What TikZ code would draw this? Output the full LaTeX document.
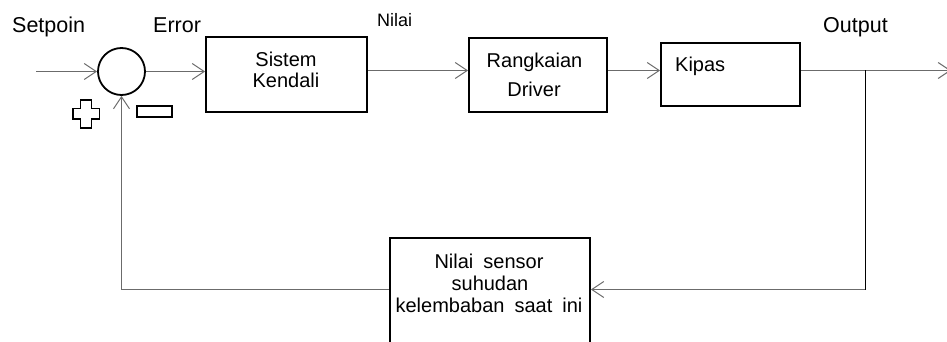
\documentclass[tikz,border=0pt]{standalone}
\usepackage{fontspec}
\setmainfont{Liberation Sans}
\newfontfamily\widefont[WordSpace=1.8]{Liberation Sans}
\usetikzlibrary{arrows.meta}
\begin{document}
\begin{tikzpicture}[x=1pt,y=-1pt,
  blk/.style={draw=black, line width=1.8pt, inner sep=0pt, fill=white},
  wire/.style={draw=black!58, line width=1.6pt},
  tip/.style={-{Straight Barb[length=12pt,width=16pt,line width=1pt]}},
  lbl/.style={font=\fontsize{21.5}{24}\selectfont, anchor=base west, inner sep=0pt},
  txt/.style={font=\fontsize{20}{22}\selectfont, anchor=base, inner sep=0pt},
  wtxt/.style={font=\widefont\fontsize{20}{22}\selectfont, anchor=base, inner sep=0pt},
  sign/.style={draw=black, line width=1.5pt},
]
\useasboundingbox (0,0) rectangle (947,342);
\fill[white] (0,0) rectangle (947,342);

% main signal level
\coordinate (ml) at (0,70.5);
\coordinate (fb) at (0,289.5);

% blocks
\node[circle, draw=black, line width=1.8pt, minimum size=47pt, inner sep=0pt] (sum) at (121.5,71.5) {};
\node[blk, minimum width=161pt, minimum height=75pt] (ctl) at (286.5,74.5) {};
\node[blk, minimum width=138pt, minimum height=74pt] (drv) at (538,75) {};
\node[blk, minimum width=139pt, minimum height=63pt] (fan) at (730.5,74.5) {};
\node[blk, minimum width=200pt, minimum height=124pt] (sens) at (490,300) {};

% block texts
\node[txt] (t1) at (286,67) {Sistem};
\node[txt] (t2) at (286,88) {Kendali};
\node[txt] (t3) at (534.5,68) {Rangkaian};
\node[txt] (t4) at (534,97) {Driver};
\node[txt, anchor=base west] (t5) at (675,72) {Kipas};
\node[wtxt] (s1) at (489,268) {Nilai sensor};
\node[wtxt] (s2) at (490,290) {suhudan};
\node[wtxt] (s3) at (489,312) {kelembaban saat ini};

% signal labels
\node[lbl] (lsp) at (12,33) {Setpoin};
\node[lbl] (ler) at (153,33) {Error};
\node[lbl, font=\fontsize{18}{20}\selectfont] (lni) at (377,27) {Nilai};
\node[lbl] (lout) at (823,33) {Output};

% connectors
\coordinate (in) at (36,71.5);
\coordinate (out) at (951,70.5);
\coordinate (j) at (865,70.5);
\draw[wire,tip] (in) -- (sum.west);
\draw[wire,tip] (sum.east) -- (sum.east -| ctl.west);
\draw[wire,tip] (ctl.east |- ml) -- (drv.west |- ml);
\draw[wire,tip] (drv.east |- ml) -- (fan.west |- ml);
\draw[wire,tip] (fan.east |- ml) -- (out);
\draw[black, line width=1pt] (j) -- (j |- fb);
\draw[wire,tip] (j |- fb) -- (sens.east |- fb);
\draw[wire,tip] (sens.west |- fb) -- (sum |- fb) -- (sum.south);

% summing signs
\draw[sign] (80.5,100) -- (91.5,100) -- (91.5,108.5) -- (99.5,108.5) -- (99.5,119) -- (91.5,119)
  -- (91.5,128) -- (80.5,128) -- (80.5,119) -- (73,119) -- (73,108.5) -- (80.5,108.5) -- cycle;
\draw[sign] (137,106) rectangle (172,117);
\end{tikzpicture}
\end{document}
